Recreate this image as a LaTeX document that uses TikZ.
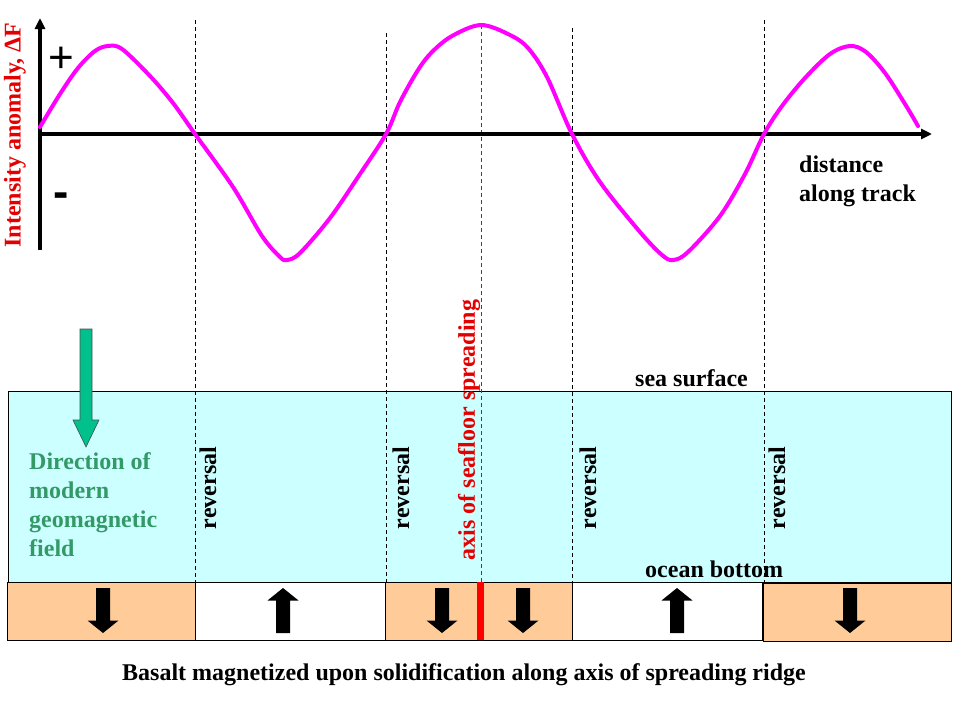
\documentclass[tikz,border=0pt]{standalone}
\usepackage{fontspec}
\setmainfont{Liberation Serif}
\newfontfamily\sansf{Liberation Sans}
\usetikzlibrary{arrows.meta}
\definecolor{seacyan}{HTML}{CCFFFF}
\definecolor{basalt}{HTML}{FFCC99}
\definecolor{fieldgreen}{HTML}{339966}
\definecolor{arrowgreen}{RGB}{0,192,140}
\definecolor{curvemag}{HTML}{FF00FF}
\definecolor{txtred}{RGB}{228,0,0}
\begin{document}
\begin{tikzpicture}[x=1pt,y=-1pt,
  lbl/.style={font=\fontsize{24}{29}\selectfont\bfseries, inner sep=0pt},
  rev/.style={lbl, rotate=90},
  revline/.style={black, line width=0.8pt, dash pattern=on 4pt off 3pt},
  box/.style={draw=black, line width=1pt},
  downarr/.pic={\fill[black] (-7,-22.5) -- (7,-22.5) -- (7,10) -- (15.5,10) -- (0,22.5) -- (-15.5,10) -- (-7,10) -- cycle;},
  uparr/.pic={\fill[black] (-7,22.5) -- (7,22.5) -- (7,-10) -- (15.5,-10) -- (0,-22.5) -- (-15.5,-10) -- (-7,-10) -- cycle;}
]
\useasboundingbox (0,0) rectangle (960,720);

% sea
\draw[box, fill=seacyan] (8,391) rectangle (951,582);

% reversal and axis dashed lines
\draw[revline] (195,20) -- (195,582);
\draw[revline] (386,33) -- (386,582);
\draw[revline] (572,28) -- (572,582);
\draw[revline] (764,20) -- (764,600);
\draw[txtred, line width=0.8pt, dash pattern=on 4pt off 3pt] (481,25) -- (481,582);

% basalt strips
\draw[box, fill=basalt] (7,582) rectangle (195,640);
\draw[box, fill=white] (195,582) rectangle (385,640);
\draw[box, fill=basalt] (385,582) rectangle (572,640);
\draw[box, fill=white] (572,582) rectangle (762,640);
\draw[box, fill=basalt] (763,583) rectangle (951,641);
\draw[red, line width=7pt] (480,582) -- (480,640);

% magnetization arrows
\pic at (103,610.5) {downarr};
\pic at (283,610.5) {uparr};
\pic at (442,610.5) {downarr};
\pic at (523,610.5) {downarr};
\pic at (677,610.5) {uparr};
\pic at (850,610.5) {downarr};

% modern field arrow
\draw[fill=arrowgreen, draw=black!70, line width=0.6pt]
  (80,329) -- (92,329) -- (92,420) -- (99,420) -- (86,447) -- (73,420) -- (80,420) -- cycle;

% axes
\draw[line width=3.5pt, -{Triangle[length=11pt,width=10pt]}] (40,250) -- (40,18);
\draw[line width=3.5pt, -{Triangle[length=11pt,width=10pt]}] (38,134) -- (932,134);

% anomaly curve
\draw[curvemag, line width=4pt, line cap=round, line join=round]
  plot[smooth, tension=0.55] coordinates {
  (40,127) (60,94) (78,68) (95,51) (108,46) (122,49) (150,76) (173,103)
  (195,134) (233,187) (262,236) (280,257) (287,260) (300,253) (330,218) (360,174)
  (386,134) (400,102) (418,70) (432,52) (452,36) (481,25) (510,35) (528,48)
  (547,77) (572,134) (600,182) (640,232) (662,255) (673,260) (688,252) (720,216) (745,174)
  (764,134) (782,106) (805,78) (830,54) (850,46) (866,52) (885,73) (905,104) (918,126)};

% labels
\node[font=\sansf\fontsize{44}{44}\selectfont, inner sep=0pt] (plus) at (61,60) {+};
\node[font=\sansf\bfseries\fontsize{46}{46}\selectfont, inner sep=0pt] (minus) at (61,200) {-};
\node[rev, text=txtred] (ylabel) at (15,135) {Intensity anomaly, ΔF};
\node[lbl, anchor=north west, align=left] (dist) at (799,156) {distance\\along track};
\node[lbl, anchor=north west, align=left, text=fieldgreen] (field) at (29,452) {Direction of\\modern\\geomagnetic\\field};
\node[lbl, anchor=base west] (surf) at (635,386) {sea surface};
\node[lbl, anchor=base west] (bottom) at (645,577) {ocean bottom};
\node[rev] (rev1) at (208,488) {reversal};
\node[rev] (rev2) at (401,488) {reversal};
\node[rev] (rev3) at (588,488) {reversal};
\node[rev] (rev4) at (777,488) {reversal};
\node[rev, text=txtred] (axis) at (469,430) {axis of seafloor spreading};
\node[lbl, anchor=base] (caption) at (464,680) {Basalt magnetized upon solidification along axis of spreading ridge};
\end{tikzpicture}
\end{document}
